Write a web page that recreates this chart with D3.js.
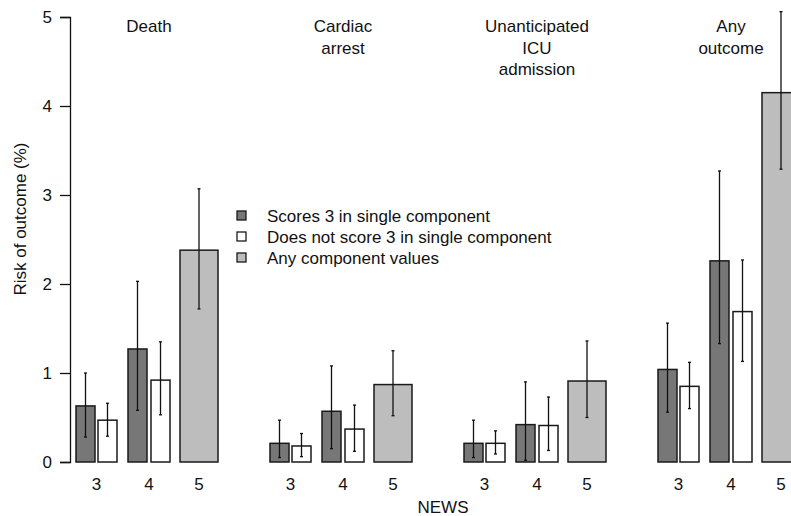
<!DOCTYPE html>
<html lang="en">
<head>
<meta charset="utf-8">
<script src="https://d3js.org/d3.v7.min.js"></script>
<style>
  body { margin: 0; background: #fff; }
  text { font-family: "Liberation Sans", Arial, sans-serif; fill: #111; }
</style>
</head>
<body>
<script>
// outcome panels
var outcomes = [["Death"], ["Cardiac", "arrest"], ["Unanticipated", "ICU", "admission"], ["Any", "outcome"]];
var seriesNames = ["Scores 3 in single component", "Does not score 3 in single component", "Any component values"];
var newsLabels = ["3", "4", "5"];

// risk (%) per outcome: [dark3, white3, dark4, white4, gray5]
var risk  = [[0.63, 0.47, 1.27, 0.92, 2.38],
             [0.21, 0.18, 0.57, 0.37, 0.87],
             [0.21, 0.21, 0.42, 0.41, 0.91],
             [1.04, 0.85, 2.26, 1.69, 4.15]];
var lower = [[0.28, 0.29, 0.58, 0.53, 1.72],
             [0.05, 0.06, 0.15, 0.12, 0.52],
             [0.05, 0.09, 0.02, 0.13, 0.50],
             [0.56, 0.60, 1.33, 1.13, 3.29]];
var upper = [[1.00, 0.66, 2.03, 1.35, 3.07],
             [0.47, 0.32, 1.08, 0.64, 1.25],
             [0.47, 0.35, 0.90, 0.73, 1.36],
             [1.56, 1.12, 3.27, 2.27, 5.06]];
var yTicks = [0, 1, 2, 3, 4, 5];

var w = 791, h = 516;
var fs = "17px";
var fills = ["#777777", "#ffffff", "#bdbdbd"];
// bar layout inside a panel: series index, NEWS index, offset and width in px
var slots = [
  {s: 0, n: 0, off: 0,   wd: 19},
  {s: 1, n: 0, off: 22,  wd: 19},
  {s: 0, n: 1, off: 52,  wd: 19},
  {s: 1, n: 1, off: 75,  wd: 19},
  {s: 2, n: 2, off: 104, wd: 38}
];

var svg = d3.select("body").append("svg").attr("width", w).attr("height", h);

var y = d3.scaleLinear().domain([0, 5]).range([462, 17]);
var xg = d3.scaleLinear().domain([0, 3]).range([76, 658]);

// y axis
var yAxis = svg.append("g").attr("transform", "translate(70,0)")
  .call(d3.axisLeft(y).tickValues(yTicks).tickSize(10).tickPadding(8).tickFormat(d3.format("d")));
yAxis.selectAll("path, line").attr("stroke", "#111").attr("stroke-width", 1.3);
yAxis.selectAll("text").style("font-size", fs).attr("fill", "#111");

svg.append("text")
  .attr("transform", "translate(26,219) rotate(-90)")
  .attr("text-anchor", "middle")
  .style("font-size", fs)
  .text("Risk of outcome (%)");

outcomes.forEach(function(title, g) {
  var gx = xg(g);
  var panel = svg.append("g").attr("transform", "translate(" + gx + ",0)");

  panel.selectAll("rect").data(slots).enter().append("rect")
    .attr("x", function(d) { return d.off; })
    .attr("width", function(d) { return d.wd; })
    .attr("y", function(d, i) { return y(risk[g][i]); })
    .attr("height", function(d, i) { return y(0) - y(risk[g][i]); })
    .attr("fill", function(d) { return fills[d.s]; })
    .attr("stroke", "#1a1a1a")
    .attr("stroke-width", 1.5);

  var eb = panel.selectAll("g.err").data(slots).enter().append("g").attr("class", "err");
  eb.append("line")
    .attr("x1", function(d) { return d.off + d.wd / 2; })
    .attr("x2", function(d) { return d.off + d.wd / 2; })
    .attr("y1", function(d, i) { return y(lower[g][i]); })
    .attr("y2", function(d, i) { return y(upper[g][i]); })
    .attr("stroke", "#111").attr("stroke-width", 1.3);
  ["lo", "hi"].forEach(function(k) {
    eb.append("line")
      .attr("x1", function(d) { return d.off + d.wd / 2 - 1.5; })
      .attr("x2", function(d) { return d.off + d.wd / 2 + 1.5; })
      .attr("y1", function(d, i) { return y(k == "lo" ? lower[g][i] : upper[g][i]); })
      .attr("y2", function(d, i) { return y(k == "lo" ? lower[g][i] : upper[g][i]); })
      .attr("stroke", "#111").attr("stroke-width", 1.3);
  });

  // NEWS labels under each pair
  var labX = [(0 + 22 + 19) / 2, (52 + 75 + 19) / 2, 104 + 19];
  panel.selectAll("text.news").data(newsLabels).enter().append("text")
    .attr("class", "news")
    .attr("x", function(d, i) { return labX[i]; })
    .attr("y", 490)
    .attr("text-anchor", "middle")
    .style("font-size", fs)
    .text(function(d) { return d; });

  // panel title
  panel.selectAll("text.title").data(title).enter().append("text")
    .attr("class", "title")
    .attr("x", labX[1])
    .attr("y", function(d, i) { return 32 + i * 21.5; })
    .attr("text-anchor", "middle")
    .style("font-size", fs)
    .text(function(d) { return d; });
});

svg.append("text")
  .attr("x", 443).attr("y", 513)
  .attr("text-anchor", "middle")
  .style("font-size", fs)
  .text("NEWS");

// legend
var leg = svg.append("g").attr("transform", "translate(237,211)");
var li = leg.selectAll("g").data(seriesNames).enter().append("g")
  .attr("transform", function(d, i) { return "translate(0," + i * 21 + ")"; });
li.append("rect").attr("width", 9).attr("height", 9)
  .attr("fill", function(d, i) { return fills[i]; })
  .attr("stroke", "#1a1a1a").attr("stroke-width", 1.3);
li.append("text").attr("x", 30).attr("y", 10.5)
  .style("font-size", fs)
  .text(function(d) { return d; });
</script>
</body>
</html>
